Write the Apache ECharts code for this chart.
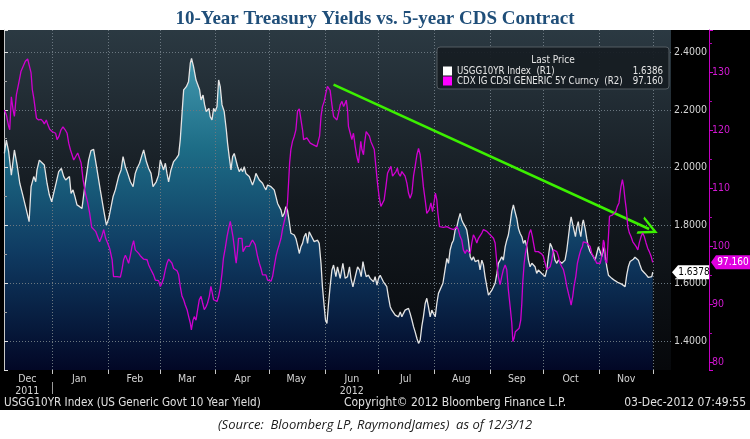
<!DOCTYPE html>
<html>
<head>
<meta charset="utf-8">
<title>10-Year Treasury Yields vs. 5-year CDS Contract</title>
<script src="https://cdn.jsdelivr.net/npm/echarts@6/dist/echarts.min.js"></script>
<style>
  html, body { margin: 0; padding: 0; background: #fff; }
  #chart { width: 750px; height: 439px; }
</style>
</head>
<body>
<div id="chart"></div>
<script>
// x values are days counted from 2011-12-05, the first day shown on the chart
const firstDay = Date.UTC(2011, 11, 5);
const dayCount = 373;
const monthNames = ['Jan', 'Feb', 'Mar', 'Apr', 'May', 'Jun', 'Jul', 'Aug', 'Sep', 'Oct', 'Nov', 'Dec'];

const usgName = 'USGG10YR Index  (R1)';
const cdxName = 'CDX IG CDSI GENERIC 5Y Curncy  (R2)';
const usgLast = '1.6386';
const cdxLast = '97.160';
const usgTag = 1.6378;
const cdxTag = 97.16;

// US generic govt 10 year yield
const usgYield = [
  [0.2,2.049],[1.3,2.095],[2.6,2.055],[4.1,1.974],[5.8,2.061],[7.3,2.009],[8.8,1.946],[10.3,1.909],[11.0,1.911],[12.5,1.853],
  [14.0,1.813],[15.1,1.934],[16.6,1.969],[17.7,1.951],[18.4,1.992],[19.7,2.026],[21.2,2.017],[22.5,2.009],[24.0,1.946],[25.3,1.905],
  [26.6,1.882],[27.7,1.911],[29.2,1.951],[30.5,1.986],[32.0,1.997],[33.3,1.969],[34.4,1.957],[35.5,1.963],[36.5,1.969],[37.4,1.911],
  [38.5,1.923],[39.6,1.899],[40.7,1.871],[42.2,1.865],[43.5,1.859],[44.8,1.923],[45.9,1.969],[47.2,2.026],[48.5,2.059],[50.0,2.063],
  [51.9,1.992],[53.7,1.923],[55.6,1.853],[57.1,1.801],[58.4,1.824],[59.3,1.830],[60.8,1.899],[62.1,1.923],[62.7,1.917],[63.9,1.969],
  [65.3,1.992],[66.4,2.038],[67.7,2.003],[69.0,1.980],[70.5,1.951],[72.0,1.934],[73.2,1.980],[74.2,1.997],[75.6,2.015],[77.0,2.044],
  [77.9,2.061],[79.4,2.021],[80.7,1.997],[82.0,1.980],[83.1,1.934],[83.8,1.928],[84.9,1.951],[86.2,1.974],[87.2,2.026],[88.1,2.021],
  [89.0,1.992],[90.0,2.015],[90.9,1.980],[91.8,1.951],[93.1,1.992],[94.6,2.021],[96.1,2.032],[97.4,2.044],[98.3,2.096],[99.3,2.188],
  [100.2,2.269],[101.7,2.280],[102.9,2.297],[103.9,2.361],[104.6,2.378],[105.7,2.349],[107.1,2.303],[108.0,2.309],[109.1,2.269],[109.9,2.234],
  [111.0,2.251],[111.9,2.217],[112.8,2.194],[113.5,2.200],[114.3,2.205],[115.0,2.176],[116.0,2.165],[116.9,2.205],[117.8,2.194],[118.8,2.211],
  [119.7,2.303],[120.6,2.280],[121.6,2.217],[122.8,2.194],[124.0,2.130],[124.7,2.084],[125.6,2.038],[126.6,1.992],[127.5,2.038],[128.4,2.049],
  [129.4,2.055],[130.3,2.003],[131.2,1.986],[132.2,1.997],[133.1,1.986],[134.0,2.003],[134.9,1.980],[135.8,1.974],[136.8,1.969],[137.7,1.963],
  [138.6,1.940],[139.6,1.957],[140.5,1.980],[141.4,1.986],[142.4,1.957],[143.3,1.951],[144.2,1.946],[145.1,1.934],[146.1,1.923],[147.0,1.940],
  [147.9,1.946],[148.9,1.934],[149.8,1.940],[150.7,1.923],[151.7,1.899],[152.6,1.876],[153.5,1.871],[154.5,1.853],[155.3,1.830],[156.3,1.842],
  [157.2,1.865],[158.1,1.853],[159.1,1.813],[160.0,1.773],[160.9,1.778],[161.9,1.767],[162.8,1.755],[163.7,1.732],[164.7,1.703],[165.6,1.726],
  [166.5,1.738],[167.4,1.761],[168.4,1.773],[169.3,1.738],[170.2,1.778],[171.2,1.773],[172.1,1.755],[173.0,1.744],[174.0,1.749],[174.9,1.749],
  [175.8,1.738],[176.8,1.669],[177.6,1.588],[178.6,1.519],[179.3,1.473],[180.1,1.461],[181.0,1.530],[181.9,1.590],[182.9,1.646],[183.8,1.663],
  [185.1,1.623],[186.0,1.657],[187.5,1.617],[189.0,1.669],[190.3,1.617],[191.6,1.623],[192.7,1.657],[193.5,1.617],[194.6,1.588],[195.9,1.623],
  [197.2,1.657],[198.3,1.646],[199.2,1.623],[200.2,1.675],[201.1,1.646],[202.0,1.623],[203.3,1.628],[204.2,1.617],[205.2,1.623],[206.1,1.605],
  [207.0,1.623],[208.0,1.594],[208.9,1.617],[209.8,1.628],[210.8,1.623],[211.6,1.605],[212.6,1.600],[213.5,1.588],[214.4,1.553],[215.4,1.519],
  [216.3,1.507],[217.2,1.513],[218.2,1.490],[219.1,1.496],[220.0,1.484],[221.0,1.501],[221.9,1.484],[222.8,1.496],[223.7,1.507],[224.7,1.501],
  [225.6,1.513],[226.5,1.496],[227.5,1.473],[228.4,1.450],[229.3,1.432],[230.3,1.409],[231.2,1.392],[232.1,1.403],[233.0,1.450],[233.9,1.484],
  [234.9,1.530],[235.8,1.548],[236.7,1.519],[237.7,1.484],[238.6,1.507],[239.5,1.496],[240.5,1.484],[241.4,1.530],[242.3,1.565],[243.2,1.568],
  [244.8,1.600],[246.0,1.648],[247.0,1.686],[247.9,1.669],[248.8,1.715],[249.8,1.738],[250.7,1.749],[251.6,1.784],[252.6,1.796],[253.4,1.819],
  [254.4,1.842],[255.3,1.819],[256.2,1.807],[257.2,1.796],[258.1,1.784],[259.0,1.749],[260.0,1.692],[260.9,1.680],[261.8,1.692],[262.8,1.675],
  [263.7,1.669],[264.6,1.680],[265.5,1.646],[266.5,1.680],[267.4,1.663],[268.3,1.623],[269.3,1.588],[270.2,1.559],[271.1,1.565],[272.1,1.576],
  [273.0,1.588],[273.9,1.600],[274.9,1.634],[275.7,1.669],[276.7,1.680],[277.6,1.692],[278.5,1.680],[279.5,1.726],[280.4,1.749],[281.3,1.767],
  [282.3,1.807],[283.2,1.848],[284.1,1.871],[285.0,1.848],[286.0,1.824],[286.9,1.790],[287.8,1.773],[288.8,1.761],[289.7,1.738],[290.6,1.749],
  [291.6,1.726],[292.5,1.680],[293.4,1.657],[294.4,1.669],[295.3,1.669],[296.2,1.657],[297.1,1.634],[298.0,1.646],[299.0,1.640],[299.9,1.634],
  [300.8,1.628],[301.8,1.623],[302.7,1.646],[303.6,1.692],[304.6,1.738],[305.5,1.726],[306.4,1.709],[307.3,1.680],[308.3,1.669],[309.2,1.680],
  [310.1,1.686],[311.1,1.669],[312.0,1.663],[312.9,1.680],[313.9,1.715],[314.8,1.761],[315.7,1.807],[316.3,1.830],[317.2,1.836],[317.9,1.784],
  [318.7,1.761],[319.5,1.796],[320.3,1.813],[320.9,1.784],[321.7,1.761],[322.6,1.807],[323.1,1.819],[324.1,1.790],[325.0,1.755],[325.9,1.726],
  [326.9,1.709],[327.8,1.703],[328.7,1.692],[329.7,1.680],[330.6,1.703],[331.5,1.726],[332.5,1.709],[333.4,1.692],[334.3,1.715],[334.8,1.726],
  [335.4,1.692],[336.2,1.657],[337.1,1.628],[338.0,1.623],[339.0,1.617],[339.8,1.611],[340.8,1.609],[341.7,1.605],[342.6,1.602],[343.6,1.600],
  [344.5,1.597],[345.4,1.594],[346.4,1.588],[347.3,1.628],[348.2,1.657],[349.2,1.675],[350.1,1.680],[351.0,1.683],[351.9,1.690],[352.9,1.692],
  [353.8,1.680],[354.7,1.663],[355.7,1.646],[356.6,1.640],[357.5,1.634],[358.5,1.628],[359.4,1.620],[360.3,1.617],[361.3,1.623],[361.8,1.6386]
];

// CDX IG 5Y spread
const cdxSpread = [
  [0.2,123.4],[1.3,122.6],[2.6,120.6],[3.2,120.0],[4.1,125.7],[5.1,123.4],[5.8,122.3],[6.9,126.0],[8.2,128.0],[9.5,130.1],
  [10.6,130.3],[11.9,131.8],[13.2,132.2],[14.3,132.4],[15.1,129.8],[15.8,126.9],[16.6,125.5],[17.5,123.4],[18.1,122.0],[19.3,121.7],
  [20.7,121.8],[21.8,121.4],[22.5,121.0],[23.6,121.7],[24.4,120.9],[25.5,120.1],[26.8,119.7],[27.7,120.0],[28.8,119.4],[29.6,118.3],
  [30.7,118.9],[31.8,120.0],[32.9,120.5],[34.1,120.0],[35.2,119.4],[36.1,117.7],[37.0,116.6],[38.0,116.3],[38.9,114.8],[40.0,115.4],
  [41.1,116.0],[42.2,115.9],[43.0,114.3],[44.1,111.4],[45.4,109.1],[46.7,107.4],[47.8,105.6],[48.9,103.2],[50.0,103.3],[51.1,102.5],
  [52.2,101.6],[53.3,100.7],[54.5,101.6],[55.6,102.8],[56.7,101.3],[57.8,100.5],[58.9,99.6],[60.3,97.6],[61.1,94.7],[62.1,95.0],
  [63.0,94.7],[63.9,95.0],[64.9,94.6],[65.8,95.9],[66.7,97.6],[67.7,98.4],[68.6,98.2],[69.5,97.0],[70.5,98.4],[71.4,99.9],
  [72.3,100.9],[73.2,99.3],[74.2,99.0],[75.1,98.7],[76.0,98.3],[77.0,98.2],[77.9,97.7],[78.8,97.9],[79.8,97.6],[80.7,96.7],
  [81.6,96.1],[82.6,95.9],[83.4,95.0],[84.4,94.1],[85.3,93.9],[86.2,94.0],[87.2,93.0],[88.1,93.6],[89.0,94.4],[90.0,95.9],
  [90.9,97.0],[91.8,97.7],[92.8,97.6],[93.7,97.0],[94.6,96.1],[95.5,95.9],[96.5,95.7],[97.4,95.0],[98.3,93.0],[99.3,91.3],
  [100.2,90.7],[101.1,89.8],[102.1,89.0],[103.0,87.8],[103.9,86.7],[104.5,85.5],[105.4,87.2],[106.1,87.8],[107.1,87.2],[108.0,89.0],
  [108.9,90.7],[109.9,91.3],[110.8,90.1],[111.7,89.0],[112.7,89.5],[113.5,90.1],[114.5,91.3],[115.4,93.0],[116.2,91.8],[116.9,90.7],
  [117.8,90.4],[118.8,90.4],[119.7,91.3],[120.6,92.7],[121.6,95.3],[122.4,97.9],[123.4,99.6],[124.4,101.6],[125.3,103.0],[126.2,104.2],
  [126.8,104.5],[127.7,101.6],[128.4,99.9],[129.2,97.6],[129.5,97.0],[130.3,99.3],[130.8,101.3],[131.8,101.6],[132.7,101.3],[133.3,99.0],
  [134.0,99.3],[134.9,99.9],[135.8,100.2],[136.8,99.9],[137.7,100.5],[138.6,101.0],[139.2,101.0],[140.1,100.2],[140.7,99.3],[141.4,98.2],
  [142.4,97.0],[143.3,96.1],[144.2,95.0],[145.1,94.7],[146.1,95.0],[147.0,94.1],[147.9,94.0],[148.9,93.9],[149.8,94.7],[150.7,96.4],
  [151.7,98.2],[152.6,99.3],[153.5,100.2],[154.5,101.3],[155.3,102.8],[156.3,104.2],[157.2,105.3],[158.1,107.4],[158.7,110.8],[159.3,114.3],
  [160.0,116.6],[160.9,118.0],[161.9,118.9],[162.8,120.0],[163.7,123.2],[164.7,123.6],[165.6,123.4],[166.5,120.0],[167.1,118.3],[168.0,118.3],
  [168.9,118.6],[169.8,118.3],[170.8,117.7],[171.7,117.7],[172.6,117.4],[173.6,117.4],[174.5,117.1],[175.4,117.1],[176.0,118.9],[176.8,122.3],
  [177.6,124.0],[178.6,124.9],[179.5,126.3],[180.4,127.5],[181.2,127.8],[181.9,126.8],[182.9,124.3],[183.8,122.3],[184.7,122.0],[185.7,121.7],
  [186.6,122.9],[187.5,124.3],[188.5,124.9],[189.4,124.0],[190.3,124.6],[190.9,125.1],[191.6,123.4],[192.1,120.6],[193.1,119.4],[194.0,118.3],
  [194.9,119.4],[195.9,117.1],[196.8,115.4],[197.7,114.3],[198.3,116.0],[199.0,118.0],[199.6,116.6],[200.5,115.7],[201.1,117.7],[202.0,119.7],
  [203.0,119.4],[203.8,118.9],[204.6,118.0],[205.5,118.3],[206.5,116.6],[207.4,113.7],[208.3,110.8],[209.2,108.5],[210.2,106.8],[211.1,106.8],
  [212.0,107.9],[213.0,110.2],[213.9,112.5],[214.8,113.1],[215.8,113.7],[216.7,112.0],[217.6,111.7],[218.6,112.8],[219.4,113.4],[220.0,112.5],
  [221.0,112.0],[221.9,112.8],[222.8,112.5],[223.7,112.0],[224.7,110.8],[225.6,109.1],[226.5,108.2],[227.5,109.1],[228.4,112.0],[229.3,113.7],
  [230.3,115.7],[231.2,116.8],[232.1,115.7],[233.0,113.1],[233.9,110.2],[234.9,107.9],[235.8,105.6],[236.4,105.3],[237.1,106.2],[238.1,107.4],
  [239.0,105.9],[239.9,107.6],[240.6,109.1],[241.4,107.9],[242.0,105.6],[242.9,103.3],[243.8,103.0],[245.1,103.2],[246.0,103.3],[247.0,103.3],
  [247.9,103.0],[248.8,103.0],[249.8,102.9],[250.7,102.8],[251.6,103.0],[252.6,103.3],[253.4,102.8],[254.4,101.6],[255.3,101.0],[256.2,99.3],
  [257.2,98.7],[258.1,99.3],[259.0,99.3],[260.0,98.7],[260.9,100.5],[261.8,101.9],[262.8,101.3],[263.7,100.5],[264.6,101.3],[265.5,101.0],
  [266.5,102.2],[267.4,102.8],[268.3,103.0],[269.3,102.5],[270.2,102.2],[271.1,101.9],[272.1,101.6],[273.0,101.3],[273.9,100.5],[274.9,97.0],
  [275.7,94.7],[276.7,93.3],[277.6,94.7],[278.5,95.9],[279.5,96.7],[280.4,95.9],[281.3,92.4],[282.3,89.5],[283.2,86.7],[283.8,83.5],
  [284.5,84.1],[285.2,85.2],[286.3,85.5],[287.3,85.8],[288.2,87.2],[288.8,90.1],[289.3,93.6],[290.1,97.0],[290.8,98.7],[291.9,100.5],
  [293.0,102.2],[293.8,102.8],[294.7,101.6],[295.3,100.5],[296.2,99.0],[297.1,99.0],[298.0,99.0],[299.0,98.7],[299.9,98.6],[300.8,98.2],
  [301.8,97.0],[302.7,95.9],[303.6,95.6],[304.6,96.4],[305.5,97.5],[306.4,99.3],[307.3,99.6],[308.3,99.0],[309.2,98.2],[310.1,97.0],
  [311.1,96.4],[312.0,95.9],[312.9,94.7],[313.9,93.0],[314.8,91.8],[315.7,90.7],[316.3,89.8],[317.2,91.3],[317.9,93.0],[318.9,94.7],
  [319.8,97.0],[320.7,98.2],[321.7,99.3],[322.6,99.9],[323.1,100.7],[324.1,100.6],[325.0,100.5],[325.9,100.2],[326.9,99.9],[327.8,98.7],
  [328.7,98.2],[329.7,97.6],[330.6,97.0],[331.5,96.7],[332.5,97.0],[333.4,98.2],[334.3,101.0],[334.8,100.5],[335.2,97.6],[336.2,97.0],
  [337.1,101.6],[337.7,105.1],[338.4,105.3],[339.3,105.3],[340.2,105.6],[341.2,105.9],[342.1,106.8],[343.0,107.4],[343.6,109.1],[344.1,110.2],
  [344.9,111.4],[345.6,110.2],[346.4,107.9],[347.1,106.2],[347.9,103.3],[348.8,102.2],[349.7,101.6],[350.7,100.7],[351.6,100.5],[352.5,99.9],
  [353.5,99.3],[354.3,100.5],[355.3,101.6],[356.2,102.2],[357.1,101.6],[358.1,100.5],[359.0,99.6],[359.9,99.0],[360.9,98.2],[361.8,97.16]
];

// green trend arrow drawn by hand on the original, in (day, CDX) terms
const trendArrow = [[183.8, 127.8], [359.8, 102.9]];

const days = [];
for (let i = 0; i < dayCount; i++) {
    days.push(new Date(firstDay + i * 864e5).toISOString().slice(0, 10));
}

const bbFont = "'DejaVu Sans Condensed', 'Liberation Sans Narrow', sans-serif";
const gridTxt = '#d4d4d4';
const legendValues = {};
legendValues[usgName] = usgLast;
legendValues[cdxName] = cdxLast;

const isMonthStart = (i, v) => v.slice(8) === '01';
const isMonthMid = (i, v) => v.slice(8) === (v.slice(0, 7) === '2011-12' ? '18' : '16');

// open chevron head for the trend arrow (points up, rotated along the line)
const chevron = 'path://M5,0 L10,10 L8.6,10 L5,2.8 L1.4,10 L0,10 Z';

const chart = echarts.init(document.getElementById('chart'));

chart.setOption({
    backgroundColor: '#ffffff',
    animation: false,
    title: {
        text: '10-Year Treasury Yields vs. 5-year CDS Contract',
        left: 'center',
        top: 5,
        textStyle: {
            fontFamily: 'Liberation Serif',
            fontWeight: 'bold',
            fontSize: 19,
            color: '#1f4e79'
        }
    },
    grid: {
        left: 4, right: 79, top: 30, bottom: 69,
        show: true,
        borderWidth: 0,
        backgroundColor: {
            type: 'linear', x: 0, y: 0, x2: 0, y2: 1,
            colorStops: [
                {offset: 0, color: '#2b3942'},
                {offset: 0.5, color: '#141a20'},
                {offset: 1, color: '#06080b'}
            ]
        }
    },
    legend: {
        left: 437, top: 47,
        orient: 'vertical',
        icon: 'rect',
        itemWidth: 9, itemHeight: 9, itemGap: 0,
        padding: [19, 6, 3, 6],
        backgroundColor: 'rgba(22,28,34,0.92)',
        borderColor: '#545c62', borderWidth: 1, borderRadius: 3,
        selectedMode: false,
        itemStyle: {borderWidth: 0},
        data: [
            {name: usgName, itemStyle: {color: '#ffffff'}},
            {name: cdxName, itemStyle: {color: '#ff00ff'}}
        ],
        formatter: name => '{n|' + name + '}{v|' + legendValues[name] + '}',
        textStyle: {
            color: '#e6e6e6', fontFamily: bbFont, fontSize: 10,
            rich: {
                n: {width: 174, color: '#e6e6e6', fontFamily: bbFont, fontSize: 9.6, lineHeight: 12},
                v: {width: 32, align: 'right', color: '#e6e6e6', fontFamily: bbFont, fontSize: 9.6, lineHeight: 12}
            }
        }
    },
    xAxis: [
        {
            type: 'category', data: days, boundaryGap: false, z: 3,
            axisLine: {show: false},
            axisTick: {show: true, interval: isMonthStart, length: 4, lineStyle: {color: '#c8c8c8'}},
            axisLabel: {
                interval: isMonthMid, color: gridTxt, fontFamily: bbFont, fontSize: 10.5,
                lineHeight: 12, margin: 3,
                formatter: v => {
                    const m = monthNames[+v.slice(5, 7) - 1];
                    if (v.slice(0, 7) === '2011-12') return m + '\n2011';
                    if (v.slice(5, 7) === '06') return m + '\n2012';
                    return m;
                }
            },
            splitLine: {show: true, interval: isMonthStart, lineStyle: {color: '#6b7780', type: [1, 2], width: 1}}
        },
        {type: 'value', min: 0, max: dayCount - 1, show: false},
        {
            // year separator under the first month boundary
            type: 'category', data: days, boundaryGap: false, position: 'bottom', offset: 12,
            axisLine: {show: false},
            axisTick: {show: true, interval: (i, v) => v === '2012-01-01', length: 12, lineStyle: {color: '#9a9a9a'}},
            axisLabel: {show: false},
            splitLine: {show: false}
        }
    ],
    yAxis: [
        {
            type: 'value', position: 'right', min: 1.3, max: 2.476, z: 3,
            axisLine: {show: true, lineStyle: {color: '#c8c8c8', width: 1}},
            axisTick: {show: true, length: 4, lineStyle: {color: '#e0e0e0'}},
            minorTick: {show: true, splitNumber: 2, length: 3, lineStyle: {color: '#a0a0a0'}},
            axisLabel: {
                color: gridTxt, fontFamily: bbFont, fontSize: 10.5, margin: 3,
                showMinLabel: false, showMaxLabel: false,
                formatter: v => v.toFixed(4)
            },
            splitLine: {
                show: true, showMinLine: false, showMaxLine: false,
                lineStyle: {color: '#6b7780', type: [1, 2], width: 1}
            }
        },
        {
            type: 'value', position: 'right', offset: 38, min: 78.6, max: 137.2, z: 3,
            axisLine: {show: true, lineStyle: {color: '#c400c4', width: 1}},
            axisTick: {show: true, length: 4, lineStyle: {color: '#d000d0'}},
            minorTick: {show: true, splitNumber: 2, length: 3, lineStyle: {color: '#b000b0'}},
            axisLabel: {
                color: '#d21ad2', fontFamily: bbFont, fontSize: 10.5, margin: 3,
                showMinLabel: false, showMaxLabel: false
            },
            splitLine: {show: false}
        }
    ],
    series: [
        {
            // blue-teal fill under the yield line
            type: 'line', xAxisIndex: 1, yAxisIndex: 0, z: 1,
            data: usgYield, showSymbol: false, silent: true,
            lineStyle: {width: 0, opacity: 0},
            areaStyle: {
                origin: 'start', opacity: 1,
                color: {
                    type: 'linear', x: 0, y: 30, x2: 0, y2: 370, global: true,
                    colorStops: [
                        {offset: 0, color: '#4ea6bb'},
                        {offset: 0.35, color: '#1d6c86'},
                        {offset: 0.65, color: '#0f3b62'},
                        {offset: 1, color: '#020726'}
                    ]
                }
            }
        },
        {
            name: usgName, type: 'line', xAxisIndex: 1, yAxisIndex: 0, z: 4,
            data: usgYield, showSymbol: false,
            lineStyle: {color: '#e4e4e4', width: 1.3}
        },
        {
            name: cdxName, type: 'line', xAxisIndex: 1, yAxisIndex: 1, z: 5,
            data: cdxSpread, showSymbol: false,
            lineStyle: {color: '#d000d0', width: 1.3},
            markLine: {
                silent: true,
                symbol: ['none', chevron],
                symbolSize: 19,
                label: {show: false},
                lineStyle: {color: '#3cf000', width: 2.5, type: 'solid'},
                itemStyle: {color: '#3cf000'},
                data: [[{coord: trendArrow[0]}, {coord: trendArrow[1]}]]
            }
        }
    ],
    graphic: [
        {type: 'rect', id: 'band', z: -10, silent: true,
         shape: {x: 0, y: 30, width: 750, height: 380}, style: {fill: '#000000'}},
        {type: 'text', id: 'lastPrice', z: 20,
         style: {text: 'Last Price', x: 553, y: 60, textAlign: 'center', textVerticalAlign: 'middle',
                 fill: '#e6e6e6', font: '10px ' + bbFont}},
        {type: 'text', id: 'footLeft', z: 20,
         style: {text: 'USGG10YR Index (US Generic Govt 10 Year Yield)', x: 4, y: 403,
                 textVerticalAlign: 'middle', fill: '#e0e0e0', font: '11.6px ' + bbFont}},
        {type: 'text', id: 'footMid', z: 20,
         style: {text: 'Copyright\u00a9 2012 Bloomberg Finance L.P.', x: 455, y: 403, textAlign: 'center',
                 textVerticalAlign: 'middle', fill: '#e0e0e0', font: '12px ' + bbFont}},
        {type: 'text', id: 'footRight', z: 20,
         style: {text: '03-Dec-2012 07:49:55', x: 746, y: 403, textAlign: 'right',
                 textVerticalAlign: 'middle', fill: '#e0e0e0', font: '12px ' + bbFont}},
        {type: 'text', id: 'source', z: 20,
         style: {text: '(Source:  Bloomberg LP, RaymondJames)  as of 12/3/12', x: 375, y: 425,
                 textAlign: 'center', textVerticalAlign: 'middle', fill: '#1a1a1a',
                 font: 'italic 13px "Open Sans", sans-serif'}}
    ]
});

// last-value tags on the two right axes
const yU = chart.convertToPixel({yAxisIndex: 0}, usgTag);
const yC = chart.convertToPixel({yAxisIndex: 1}, cdxTag);
chart.setOption({
    graphic: [
        {type: 'polygon', id: 'tagUsgBox', z: 20,
         shape: {points: [[672, yU], [678, yU - 7], [709, yU - 7], [709, yU + 7], [678, yU + 7]]},
         style: {fill: '#ffffff'}},
        {type: 'text', id: 'tagUsgText', z: 21,
         style: {text: usgTag.toFixed(4), x: 694, y: yU, textAlign: 'center', textVerticalAlign: 'middle',
                 fill: '#000000', font: '10px ' + bbFont}},
        {type: 'polygon', id: 'tagCdxBox', z: 20,
         shape: {points: [[711, yC], [716, yC - 7], [750, yC - 7], [750, yC + 7], [716, yC + 7]]},
         style: {fill: '#e000e0'}},
        {type: 'text', id: 'tagCdxText', z: 21,
         style: {text: cdxTag.toFixed(3), x: 733, y: yC, textAlign: 'center', textVerticalAlign: 'middle',
                 fill: '#ffffff', font: '10px ' + bbFont}}
    ]
});
</script>
</body>
</html>
